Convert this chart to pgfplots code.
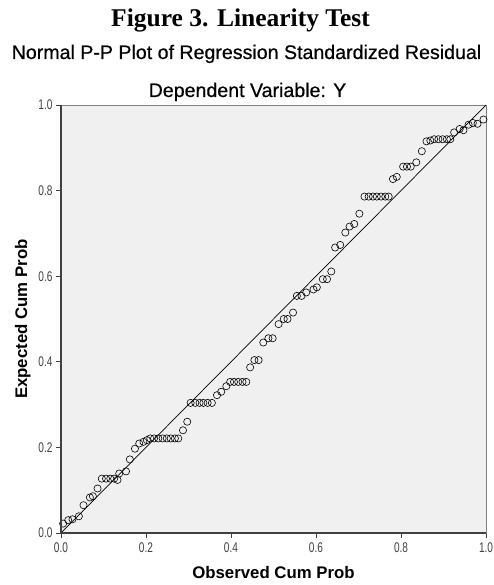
\documentclass[border=0pt]{standalone}
\usepackage{pgfplots}
\pgfplotsset{compat=1.18}
\usetikzlibrary{calc}
\usepackage{fontspec}
\setmainfont{Liberation Sans}
\newfontfamily\titlefont{Liberation Serif}
\newfontfamily\subfont[FakeBold=0.6]{Liberation Sans}
\newfontfamily\tickfont[FakeStretch=0.72]{Liberation Sans}

\definecolor{panelbg}{HTML}{F0F0F0}
\definecolor{axdark}{HTML}{404040}

\begin{document}
\begin{tikzpicture}
\begin{axis}[
    name=pp,
    scale only axis,
    width=425pt, height=428pt,
    xmin=0, xmax=1, ymin=0, ymax=1,
    xtick={0,0.2,...,1}, ytick={0,0.2,...,1},
    xtick pos=bottom, ytick pos=left,
    tick align=outside,
    major tick length=5pt,
    tick style={axdark, line width=0.8pt},
    ticklabel style={font=\tickfont\fontsize{14}{16}\selectfont, text=black!75},
    xticklabel style={yshift=-1pt},
    /pgf/number format/assume math mode=true,
    /pgf/number format/.cd, fixed, fixed zerofill, precision=1, /pgfplots/.cd,
    axis background/.style={fill=panelbg},
    axis line style={gray, line width=0.8pt},
    xlabel={\bfseries Observed Cum Prob},
    ylabel={\bfseries Expected Cum Prob},
    label style={font=\fontsize{16.8}{19}\selectfont\bfseries},
    xlabel style={yshift=-7pt},
    ylabel style={yshift=1pt},
    clip=false,
]
% reference line
\addplot[black, line width=0.7pt] coordinates {(0,0) (1,1)};

\addplot[only marks, mark=o, mark size=3.6pt, mark options={black, line width=0.6pt}] coordinates {
(0.005,0.022) (0.017,0.030) (0.027,0.032) (0.042,0.039) (0.053,0.065)
(0.068,0.083) (0.075,0.086) (0.086,0.104) (0.096,0.127) (0.106,0.127)
(0.116,0.127) (0.125,0.127) (0.133,0.124) (0.137,0.139) (0.153,0.144)
(0.162,0.172) (0.174,0.197) (0.184,0.209) (0.194,0.213) (0.202,0.217)
(0.210,0.221) (0.219,0.221) (0.229,0.221) (0.239,0.221) (0.249,0.221)
(0.258,0.221) (0.268,0.221) (0.276,0.221) (0.287,0.240) (0.297,0.260)
(0.305,0.304) (0.316,0.304) (0.326,0.304) (0.335,0.304) (0.345,0.304)
(0.355,0.304) (0.367,0.322) (0.377,0.330) (0.389,0.343) (0.398,0.353)
(0.407,0.353) (0.417,0.353) (0.427,0.353) (0.436,0.353) (0.445,0.387)
(0.455,0.404) (0.465,0.404) (0.476,0.445) (0.488,0.455) (0.498,0.455)
(0.512,0.488) (0.524,0.500) (0.533,0.500) (0.546,0.515) (0.555,0.554)
(0.566,0.554) (0.577,0.562) (0.594,0.569) (0.602,0.574) (0.616,0.593)
(0.626,0.593) (0.636,0.611) (0.645,0.667) (0.657,0.673) (0.669,0.702)
(0.679,0.716) (0.690,0.722) (0.702,0.746) (0.714,0.786) (0.724,0.786)
(0.734,0.786) (0.743,0.786) (0.753,0.786) (0.763,0.786) (0.771,0.786)
(0.781,0.827) (0.790,0.832) (0.805,0.856) (0.814,0.856) (0.823,0.856)
(0.836,0.866) (0.849,0.892) (0.860,0.915) (0.869,0.917) (0.878,0.920)
(0.888,0.920) (0.898,0.920) (0.908,0.920) (0.916,0.920) (0.925,0.936)
(0.938,0.944) (0.947,0.941) (0.959,0.954) (0.969,0.958) (0.980,0.956)
(0.994,0.966)
};
\end{axis}

% heavy left and bottom axis lines
\draw[axdark, line width=1.8pt] (pp.north west) -- (pp.south west) -- (pp.south east);

% titles
\node[anchor=base, font=\titlefont\fontsize{25.5}{28}\selectfont\bfseries]
  at ($(pp.north west)!0.5!(pp.north east) + (-33pt,78pt)$) {Figure 3. Linearity Test};
\node[anchor=base, font=\subfont\fontsize{19.6}{22}\selectfont]
  at ($(pp.north west)!0.5!(pp.north east) + (-27pt,46pt)$) {Normal P-P Plot of Regression Standardized Residual};
\node[anchor=base, font=\subfont\fontsize{19.6}{22}\selectfont]
  at ($(pp.north west)!0.5!(pp.north east) + (-26pt,8pt)$) {Dependent Variable: Y};

\pgfresetboundingbox
\path[use as bounding box] ($(pp.south west)+(-61pt,-52pt)$) rectangle ($(pp.north east)+(7pt,105pt)$);
\end{tikzpicture}
\end{document}
